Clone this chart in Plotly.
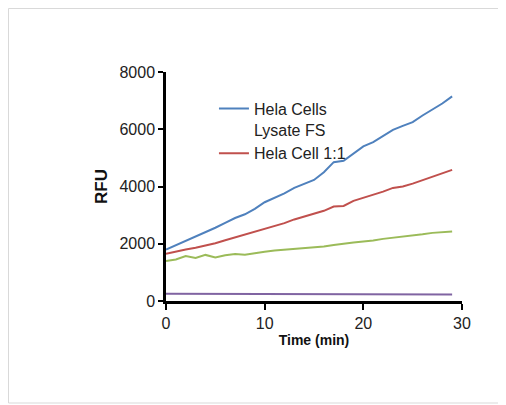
import plotly.graph_objects as go

time_min = list(range(0, 30))
hela_cells_lysate = [1800, 1950, 2100, 2250, 2420, 2560, 2730, 2900, 3030, 3220,
                     3450, 3600, 3760, 3950, 4080, 4230, 4500, 4850, 4900, 5150,
                     5400, 5550, 5780, 5980, 6120, 6250, 6480, 6680, 6900, 7150]
hela_cell_11 = [1650, 1730, 1800, 1860, 1930, 2020, 2120, 2220, 2300, 2400,
                2520, 2620, 2720, 2850, 2950, 3040, 3150, 3300, 3320, 3500,
                3600, 3700, 3820, 3950, 4000, 4100, 4220, 4330, 4450, 4580]
green_series = [1400, 1450, 1570, 1500, 1610, 1520, 1600, 1640, 1620, 1680,
                1720, 1760, 1790, 1810, 1840, 1860, 1900, 1960, 1990, 2040,
                2080, 2110, 2170, 2210, 2230, 2280, 2330, 2380, 2400, 2430]
purple_series = [250, 250, 245, 245, 240, 240, 240, 240, 240, 240,
                 240, 240, 245, 245, 245, 245, 245, 245, 245, 245,
                 245, 245, 245, 240, 240, 240, 230, 230, 230, 230]

x_ticks = [0, 10, 20, 30]
y_ticks = [0, 2000, 4000, 6000, 8000]

FONT = "Liberation Sans, Arial, sans-serif"

# page body has an 8px margin, so the figure is sized to fit the 506x405 window
W, H = 498, 397
L, R, T, B = 158, 44, 64, 104
pw, ph = W - L - R, H - T - B

fig = go.Figure()
fig.add_trace(go.Scatter(x=time_min, y=hela_cells_lysate, mode="lines",
                         name="Hela Cells<br>Lysate FS",
                         line=dict(color="#4f81bd", width=2)))
fig.add_trace(go.Scatter(x=time_min, y=hela_cell_11, mode="lines",
                         name="Hela Cell 1:1",
                         line=dict(color="#c0504d", width=2)))
fig.add_trace(go.Scatter(x=time_min, y=green_series, mode="lines",
                         showlegend=False,
                         line=dict(color="#9bbb59", width=2)))
fig.add_trace(go.Scatter(x=time_min, y=purple_series, mode="lines",
                         showlegend=False,
                         line=dict(color="#8064a2", width=2)))

# light gray outer frame (no fill, drawn above so axes stay visible)
fig.add_shape(type="rect", xref="paper", yref="paper",
              x0=(0.5 - L) / pw, x1=(497 - L) / pw,
              y0=(H - B - 395) / ph, y1=(H - B - 0.5) / ph,
              line=dict(color="#d9d9d9", width=1), layer="above")

fig.update_layout(
    width=W, height=H,
    margin=dict(l=L, r=R, t=T, b=B),
    paper_bgcolor="white", plot_bgcolor="white",
    font=dict(family=FONT, size=16, color="#222222"),
    showlegend=True,
    legend=dict(x=0.162, y=0.914, xanchor="left", yanchor="top",
                bgcolor="rgba(0,0,0,0)", valign="top",
                font=dict(size=16, color="#222222"),
                tracegroupgap=0, itemwidth=30),
    xaxis=dict(range=[0, 30], tickvals=x_ticks, showgrid=False, zeroline=False,
               showline=True, linecolor="black", linewidth=2.5,
               ticks="outside", ticklen=6, tickcolor="black", tickwidth=2,
               title=dict(text="<b>Time (min)</b>", standoff=5,
                          font=dict(family=FONT, size=14, color="#111111"))),
    yaxis=dict(range=[0, 8000], tickvals=y_ticks, showgrid=False, zeroline=False,
               showline=True, linecolor="black", linewidth=2.5,
               ticks="outside", ticklen=5, tickcolor="black", tickwidth=2,
               title=dict(text="<b>RFU</b>", standoff=8,
                          font=dict(family=FONT, size=17, color="#111111"))),
)

fig.write_html("out.html")
